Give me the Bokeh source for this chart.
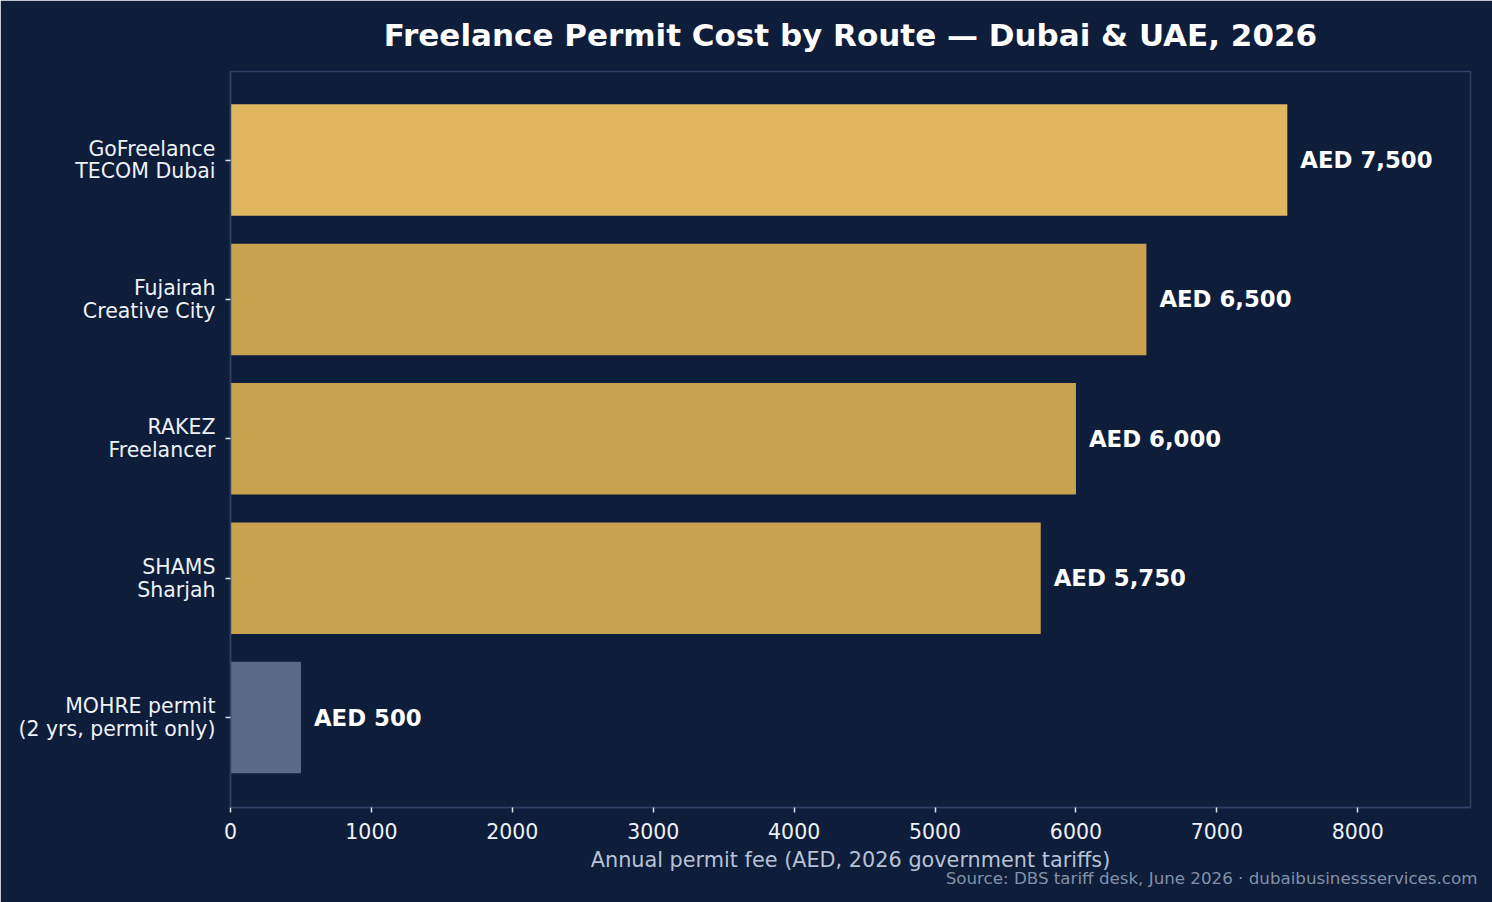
from bokeh.plotting import figure
from bokeh.models import ColumnDataSource, FixedTicker, Range1d, Title
from bokeh.core.properties import value
from bokeh.embed import file_html
from bokeh.resources import INLINE

routes = ["GoFreelance\nTECOM Dubai", "Fujairah\nCreative City", "RAKEZ\nFreelancer",
          "SHAMS\nSharjah", "MOHRE permit\n(2 yrs, permit only)"]
fees = [7500, 6500, 6000, 5750, 500]
bar_colors = ["#e0b65e", "#c8a24e", "#c8a24e", "#c8a24e", "#5a6a85"]
x_ticks = [0, 1000, 2000, 3000, 4000, 5000, 6000, 7000, 8000]

BG = "#0d1d3a"
SPINE = "#2f4266"
FONT = "DejaVu Sans"

pos = list(range(len(routes) - 1, -1, -1))
source = ColumnDataSource(dict(
    y=pos,
    fee=fees,
    color=bar_colors,
    label=["AED {:,}".format(v) for v in fees],
))

p = figure(
    width=1492, height=902,
    x_range=Range1d(0, 8800), y_range=Range1d(-0.645, len(routes) - 1 + 0.635),
    output_backend="svg", toolbar_location=None, tools="",
    background_fill_color=BG, border_fill_color=BG,
    min_border_left=230, min_border_right=22, min_border_top=71, min_border_bottom=95,
)

p.title = Title(text="Freelance Permit Cost by Route \u2014 Dubai & UAE, 2026",
                align="center", vertical_align="top", text_color="#ffffff", text_font=FONT,
                text_font_size="31px", text_font_style="bold", offset=0, standoff=33)

p.hbar(y="y", right="fee", left=0, height=0.8, fill_color="color", line_color=None, source=source)
p.text(x="fee", y="y", text="label", source=source, x_offset=13,
       text_baseline="middle", text_align="left", text_color="#ffffff",
       text_font=value(FONT), text_font_size="22.8px", text_font_style="bold")

p.xgrid.grid_line_color = None
p.ygrid.grid_line_color = None
p.outline_line_color = SPINE
p.outline_line_width = 1.5

p.yaxis.ticker = FixedTicker(ticks=pos)
p.yaxis.major_label_overrides = {y: r for y, r in zip(pos, routes)}
p.xaxis.ticker = FixedTicker(ticks=x_ticks)
p.xaxis.axis_label = "Annual permit fee (AED, 2026 government tariffs)"

for ax in (p.xaxis, p.yaxis):
    ax.axis_line_color = SPINE
    ax.axis_line_width = 1.5
    ax.major_tick_line_color = "#e0e4ea"
    ax.major_tick_line_width = 1.5
    ax.major_tick_out = 5
    ax.major_tick_in = 0
    ax.minor_tick_line_color = None
    ax.major_label_text_color = "#eef1f6"
    ax.major_label_text_font = FONT
    ax.major_label_text_font_size = "20.5px"

p.yaxis.major_label_standoff = 10
p.yaxis.major_label_text_line_height = 0.95
p.xaxis.major_label_standoff = 10

p.xaxis.axis_label_text_color = "#b8c2d4"
p.xaxis.axis_label_text_font = FONT
p.xaxis.axis_label_text_font_size = "20.8px"
p.xaxis.axis_label_text_font_style = "normal"
p.xaxis.axis_label_standoff = 6

p.add_layout(Title(text="Source: DBS tariff desk, June 2026 \u00b7 dubaibusinessservices.com",
                   align="right", text_color="#8391a8", text_font=FONT,
                   text_font_size="16.7px", text_font_style="normal",
                   offset=-7, standoff=-17), "below")

open("out.html", "w").write(file_html(p, INLINE))
